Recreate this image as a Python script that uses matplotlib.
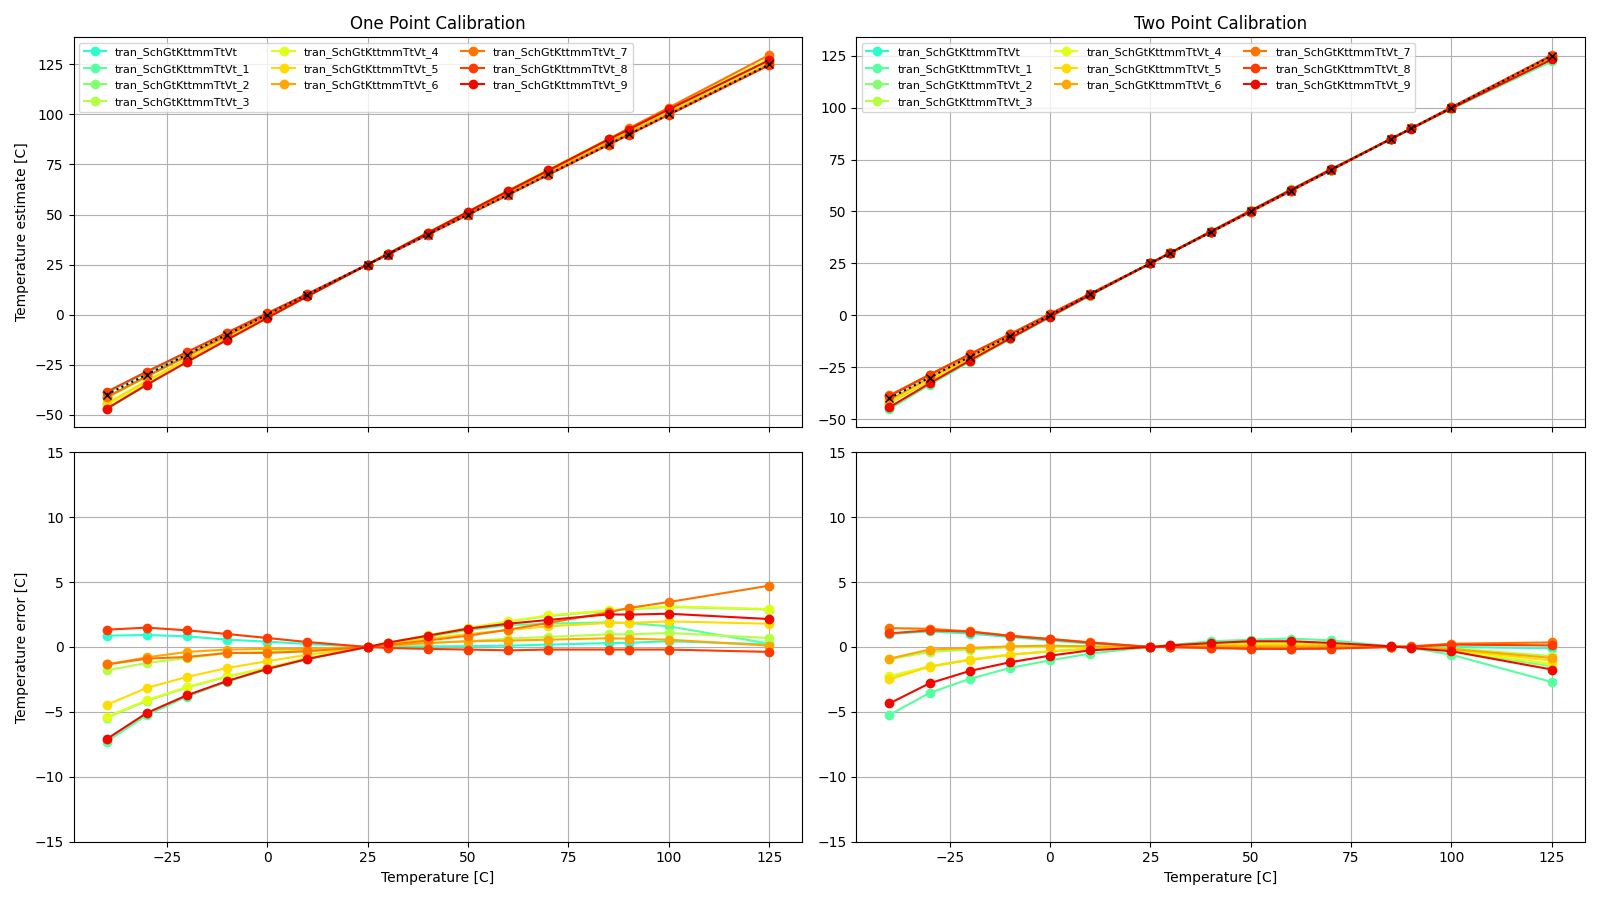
import numpy as np
import matplotlib
matplotlib.use("Agg")
import matplotlib.pyplot as plt

temps = [-40, -30, -20, -10, 0, 10, 25, 30, 40, 50, 60, 70, 85, 90, 100, 125]

names = ["tran_SchGtKttmmTtVt"] + [f"tran_SchGtKttmmTtVt_{i}" for i in range(1, 10)]

# temperature error after one point calibration (at 25 C)
err_one = [
    [0.87, 0.92, 0.82, 0.56, 0.41, 0.23, 0, 0.03, 0.05, 0.06, 0.1, 0.18, 0.3, 0.32, 0.44, 0.2],
    [-7.3, -5.25, -3.82, -2.67, -1.72, -0.95, 0, 0.3, 0.8, 1.3, 1.67, 1.8, 1.9, 1.85, 1.59, 0.26],
    [-5.45, -4.15, -3.12, -2.3, -1.62, -0.87, 0, 0.32, 0.88, 1.45, 1.95, 2.38, 2.78, 2.9, 3.08, 2.88],
    [-1.8, -1.23, -0.85, -0.5, -0.35, -0.2, 0, 0.1, 0.3, 0.45, 0.64, 0.77, 0.97, 0.97, 1.08, 0.69],
    [-5.38, -4.1, -3.08, -2.26, -1.6, -0.85, 0, 0.33, 0.9, 1.47, 1.97, 2.44, 2.82, 2.95, 3.13, 2.92],
    [-4.46, -3.15, -2.31, -1.62, -1.1, -0.6, 0, 0.2, 0.65, 1.0, 1.3, 1.59, 1.85, 1.85, 1.97, 1.79],
    [-1.35, -0.8, -0.38, -0.2, -0.15, -0.15, 0, 0.1, 0.3, 0.44, 0.49, 0.56, 0.67, 0.64, 0.56, 0.1],
    [-1.35, -0.9, -0.77, -0.46, -0.46, -0.33, 0, 0.15, 0.5, 0.87, 1.33, 1.85, 2.67, 3.0, 3.46, 4.72],
    [1.33, 1.49, 1.28, 1.0, 0.69, 0.38, 0, -0.08, -0.15, -0.2, -0.26, -0.2, -0.2, -0.2, -0.2, -0.38],
    [-7.1, -5.08, -3.72, -2.62, -1.69, -0.92, 0, 0.33, 0.87, 1.41, 1.79, 2.08, 2.51, 2.49, 2.56, 2.15],
]

# temperature error after two point calibration (at 25 C and 85 C)
err_two = [
    [1.0, 1.2, 1.03, 0.77, 0.5, 0.26, 0, 0.02, 0.05, 0.1, 0.1, 0.1, 0, -0.02, 0, -0.1],
    [-5.23, -3.54, -2.46, -1.62, -1.03, -0.51, 0, 0.15, 0.44, 0.56, 0.64, 0.51, 0.05, -0.05, -0.6, -2.7],
    [-2.3, -1.5, -1.0, -0.6, -0.35, -0.15, 0, 0.1, 0.25, 0.3, 0.33, 0.28, 0.03, -0.03, -0.3, -1.5],
    [-0.95, -0.38, -0.2, -0.03, 0, 0, 0, 0.05, 0.1, 0.12, 0.12, 0.1, 0.02, -0.02, -0.1, -0.7],
    [-2.25, -1.49, -0.97, -0.59, -0.33, -0.15, 0, 0.08, 0.2, 0.25, 0.26, 0.22, 0.02, -0.02, -0.25, -1.3],
    [-2.5, -1.52, -0.99, -0.6, -0.33, -0.13, 0, 0.06, 0.15, 0.18, 0.2, 0.16, 0.02, -0.02, -0.2, -1.05],
    [-0.9, -0.2, -0.08, 0.05, 0.1, 0.05, 0, 0.03, 0.05, 0.05, 0.05, 0.05, 0.01, 0, -0.15, -0.85],
    [1.45, 1.4, 1.2, 0.87, 0.62, 0.36, 0, 0, -0.05, -0.1, -0.12, -0.1, 0, 0.05, 0.25, 0.35],
    [1.05, 1.28, 1.18, 0.85, 0.6, 0.33, 0, -0.02, -0.08, -0.15, -0.15, -0.13, 0, 0.03, 0.18, 0.12],
    [-4.35, -2.8, -1.85, -1.18, -0.67, -0.26, 0, 0.12, 0.3, 0.44, 0.44, 0.31, 0.05, -0.08, -0.33, -1.74],
]

colors = plt.cm.jet(np.linspace(0.4, 0.9, len(names)))
T = np.array(temps)

fig, axes = plt.subplots(2, 2, figsize=(16, 9), sharex='col')

for col, (errs, title) in enumerate([(err_one, "One Point Calibration"),
                                     (err_two, "Two Point Calibration")]):
    ax_est = axes[0, col]
    ax_err = axes[1, col]
    for name, err, c in zip(names, errs, colors):
        err = np.array(err)
        ax_est.plot(T, T + err, 'o-', color=c, label=name)
        ax_err.plot(T, err, 'o-', color=c, label=name)
    # ideal response
    ax_est.plot(T, T, 'x:', color='black')
    ax_est.set_title(title)
    ax_est.legend(ncol=3, fontsize=8, loc='upper left')
    ax_est.grid(True)
    ax_err.grid(True)
    ax_err.set_ylim(-15, 15)
    ax_err.set_xlabel("Temperature [C]")

axes[0, 0].set_ylabel("Temperature estimate [C]")
axes[1, 0].set_ylabel("Temperature error [C]")

plt.tight_layout()
plt.savefig("out.png", dpi=100)
